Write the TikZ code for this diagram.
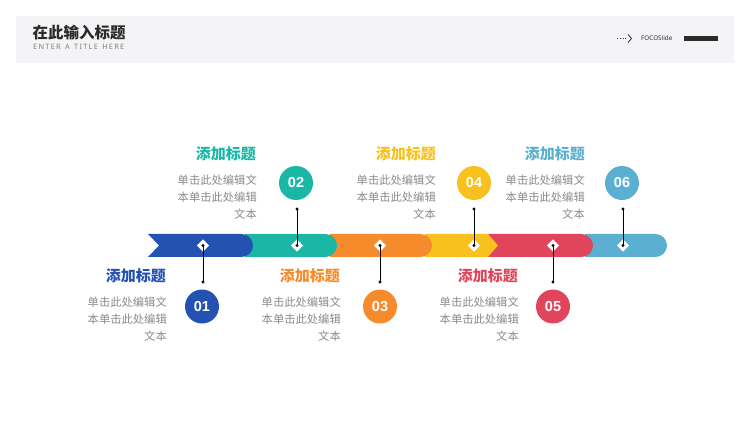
\documentclass[tikz,border=0pt]{standalone}
\usepackage{fontspec}
\setmainfont{Noto Sans}
\newfontfamily\cjk{Noto Sans CJK SC}
\newfontfamily\numfont{Liberation Sans}
\definecolor{cA}{HTML}{2452B3}
\definecolor{cB}{HTML}{1AB7A6}
\definecolor{cC}{HTML}{F68B2C}
\definecolor{cD}{HTML}{F8C11E}
\definecolor{cE}{HTML}{E1455B}
\definecolor{cF}{HTML}{5BAFD0}
\definecolor{bodygray}{HTML}{8A8A8A}
\definecolor{band}{HTML}{F4F4F6}
\definecolor{dark}{HTML}{2B2B2B}
\begin{document}
\begin{tikzpicture}[x=1pt,y=-1pt,
  dia/.style={rectangle,fill=white,minimum size=8.5pt,inner sep=0,rotate=45},
  pin/.style={circle,fill=black,inner sep=0,minimum size=3.2pt},
  conn/.style={line width=1pt,black},
  num/.style={circle,minimum size=34pt,inner sep=0,text=white,font=\numfont\bfseries\fontsize{14.5}{14.5}\selectfont},
  ttl/.style={anchor=east,inner sep=0,font=\cjk\bfseries\fontsize{15}{15}\selectfont},
  body/.style={anchor=north east,inner sep=0,align=right,text=bodygray,font=\cjk\fontsize{11.3}{17}\selectfont}]
\useasboundingbox (0,0) rectangle (750,422);
% header
\fill[band] (16,16) rectangle (734,63);
\node[anchor=west,inner sep=0,text=dark,font=\cjk\bfseries\fontsize{15.5}{15.5}\selectfont] (htitle) at (32.5,33) {在此输入标题};
\node[anchor=west,inner sep=0,text=gray,font=\fontsize{7.4}{8}\selectfont] (hsub) at (33,46.5) {E\,N\,T\,E\,R\, \,A\, \,T\,I\,T\,L\,E\, \,H\,E\,R\,E};
\draw[dark,dotted,line width=0.8pt] (617,38.5) -- (627,38.5);
\draw[dark,line width=0.8pt] (628,34.5) -- (631.5,38.5) -- (628,42.5);
\node[anchor=west,inner sep=0,text=dark,font=\fontsize{6.3}{7}\selectfont] (brand) at (641,38.5) {FOCOSlide};
\fill[dark] (684,35.8) rectangle (718,41.2);
% bar segments (back to front)
\fill[cF] (585,234) -- (655.5,234) arc[start angle=90,end angle=-90,radius=11.5pt] -- (585,257) -- cycle;
\fill[cE] (488,234) -- (581.5,234) arc[start angle=90,end angle=-90,radius=11.5pt] -- (488,257) -- cycle;
\fill[cD] (425,234) -- (488,234) -- (498,245.5) -- (488,257) -- (425,257) -- cycle;
\fill[cC] (330,234) -- (420.5,234) arc[start angle=90,end angle=-90,radius=11.5pt] -- (330,257) -- cycle;
\fill[cB] (245,234) -- (325.5,234) arc[start angle=90,end angle=-90,radius=11.5pt] -- (245,257) -- cycle;
\fill[cA] (148,234) -- (241.5,234) arc[start angle=90,end angle=-90,radius=11.5pt] -- (148,257) -- (159,245.5) -- cycle;
% diamonds
\node[dia] (d1) at (203,245.5) {};
\node[dia] (d2) at (297,245.5) {};
\node[dia] (d3) at (380,245.5) {};
\node[dia] (d4) at (474,245.5) {};
\node[dia] (d5) at (553,245.5) {};
\node[dia] (d6) at (623,245.5) {};
% circles
\node[num,fill=cA] (n1) at (202,306.5) {01};
\node[num,fill=cB] (n2) at (296,183) {02};
\node[num,fill=cC] (n3) at (380,306.5) {03};
\node[num,fill=cD] (n4) at (474,183) {04};
\node[num,fill=cE] (n5) at (553,306.5) {05};
\node[num,fill=cF] (n6) at (622,183) {06};
% pins
\node[pin] (m1) at (d1.center) {};
\node[pin] (m2) at (d2.center) {};
\node[pin] (m3) at (d3.center) {};
\node[pin] (m4) at (d4.center) {};
\node[pin] (m5) at (d5.center) {};
\node[pin] (m6) at (d6.center) {};
\node[pin] (p1) at (203,282) {};
\node[pin] (p2) at (297,209) {};
\node[pin] (p3) at (380,282) {};
\node[pin] (p4) at (474,209) {};
\node[pin] (p5) at (553,282) {};
\node[pin] (p6) at (623,209) {};
\draw[conn] (m1.center) -- (p1.center);
\draw[conn] (m2.center) -- (p2.center);
\draw[conn] (m3.center) -- (p3.center);
\draw[conn] (m4.center) -- (p4.center);
\draw[conn] (m5.center) -- (p5.center);
\draw[conn] (m6.center) -- (p6.center);
% titles
\node[ttl,text=cA] (t1) at (166,275.5) {添加标题};
\node[ttl,text=cB] (t2) at (256,153.5) {添加标题};
\node[ttl,text=cC] (t3) at (340,275.5) {添加标题};
\node[ttl,text=cD] (t4) at (436,153.5) {添加标题};
\node[ttl,text=cE] (t5) at (518,275.5) {添加标题};
\node[ttl,text=cF] (t6) at (585,153.5) {添加标题};
% bodies
\node[body] (b1) at (167,297) {单击此处编辑文\\本单击此处编辑\\文本};
\node[body] (b2) at (257,175) {单击此处编辑文\\本单击此处编辑\\文本};
\node[body] (b3) at (341,297) {单击此处编辑文\\本单击此处编辑\\文本};
\node[body] (b4) at (436,175) {单击此处编辑文\\本单击此处编辑\\文本};
\node[body] (b5) at (519,297) {单击此处编辑文\\本单击此处编辑\\文本};
\node[body] (b6) at (585,175) {单击此处编辑文\\本单击此处编辑\\文本};
\end{tikzpicture}
\end{document}
